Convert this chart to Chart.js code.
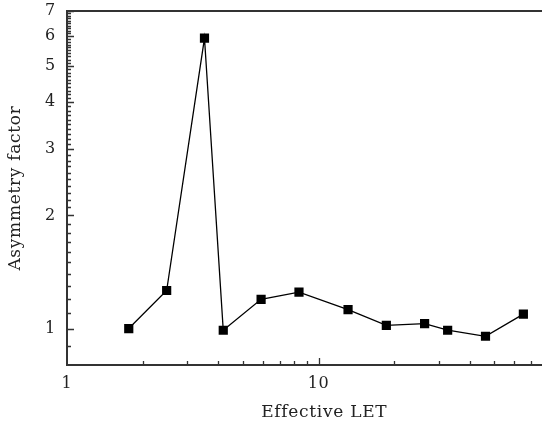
<!DOCTYPE html>
<html>
<head>
<meta charset="utf-8">
<script src="https://cdn.jsdelivr.net/npm/chart.js@4"></script>
<style>
    html, body { margin: 0; padding: 0; background: #fff; overflow: hidden; }
    #wrap { width: 542px; height: 426px; overflow: hidden; }
</style>
</head>
<body>
<div id="wrap">
    <canvas id="asymChart" width="588" height="426"></canvas>
</div>
<script>
// Effective LET vs asymmetry factor
var letValues = [1.76, 2.49, 3.52, 4.18, 5.91, 8.36, 13.1, 18.6, 26.4, 32.6, 46.1, 65.2];
var asymValues = [1.0, 1.263, 5.93, 0.99, 1.196, 1.25, 1.123, 1.02, 1.031, 0.99, 0.954, 1.093];

var xTickLabels = [1, 10];
var yTickLabels = [1, 2, 3, 4, 5, 6, 7];

var axisColor = '#333333';
var serif = "'DejaVu Serif', 'Liberation Serif', serif";

// slightly looser lettering for all the text
var looseText = {
    id: 'looseText',
    beforeDraw: function (chart) {
        chart.ctx.letterSpacing = '0.7px';
    }
};

// minor/major ticks drawn on the inside of the frame, plus the top edge
var innerTicks = {
    id: 'innerTicks',
    afterDraw: function (chart) {
        var ctx = chart.ctx;
        var area = chart.chartArea;
        var xs = chart.scales.x;
        var ys = chart.scales.y;
        ctx.save();
        ctx.strokeStyle = axisColor;
        ctx.lineWidth = 1.3;
        ctx.beginPath();
        // y ticks every 0.1 / 1
        for (var i = 9; i <= 70; i++) {
            var v = i / 10;
            if (v < ys.min || v > ys.max) continue;
            var len = (i % 10 === 0) ? 7 : 4;
            var py = Math.round(ys.getPixelForValue(v)) + 0.5;
            ctx.moveTo(area.left, py);
            ctx.lineTo(area.left + len, py);
        }
        // x ticks on each decade
        [1, 10, 100].forEach(function (dec) {
            for (var k = 1; k <= 9; k++) {
                var xv = dec * k;
                if (xv <= xs.min || xv > xs.max) continue;
                var len2 = (k === 1) ? 7 : 4;
                var px = Math.round(xs.getPixelForValue(xv)) + 0.5;
                ctx.moveTo(px, area.bottom);
                ctx.lineTo(px, area.bottom - len2);
            }
        });
        ctx.stroke();
        ctx.lineWidth = 2;
        ctx.beginPath();
        ctx.moveTo(area.left, area.top);
        ctx.lineTo(area.right, area.top);
        ctx.stroke();
        ctx.restore();
    }
};

var points = letValues.map(function (x, i) { return { x: x, y: asymValues[i] }; });

new Chart(document.getElementById('asymChart').getContext('2d'), {
    type: 'line',
    data: {
        datasets: [{
            data: points,
            borderColor: '#000',
            borderWidth: 1.3,
            tension: 0,
            pointStyle: 'rect',
            pointRadius: 6.5,
            pointBackgroundColor: '#000',
            pointBorderColor: '#000',
            pointBorderWidth: 0
        }]
    },
    options: {
        responsive: false,
        animation: false,
        layout: { padding: { top: 11, left: 0, right: 0, bottom: 0 } },
        plugins: {
            legend: { display: false },
            tooltip: { enabled: false }
        },
        scales: {
            x: {
                type: 'logarithmic',
                min: 1,
                max: 111,
                afterFit: function (s) {
                    s.height = 61;
                    s.paddingLeft = 0;
                    s.paddingRight = 0;
                },
                afterBuildTicks: function (s) {
                    s.ticks = xTickLabels.map(function (v) { return { value: v }; });
                },
                grid: { display: false, drawTicks: false },
                border: { display: true, color: axisColor, width: 2 },
                ticks: {
                    autoSkip: false,
                    maxRotation: 0,
                    padding: 9,
                    color: '#222',
                    font: { family: serif, size: 16 },
                    callback: function (v) { return String(v); }
                },
                title: {
                    display: true,
                    text: 'Effective LET',
                    color: '#222',
                    font: { family: serif, size: 17, lineHeight: 1.2 },
                    padding: { top: 0, bottom: 3 }
                }
            },
            y: {
                type: 'logarithmic',
                min: 0.8,
                max: 7,
                afterFit: function (s) {
                    s.width = 67;
                    s.paddingTop = 0;
                    s.paddingBottom = 0;
                },
                afterBuildTicks: function (s) {
                    s.ticks = yTickLabels.map(function (v) { return { value: v }; });
                },
                grid: { display: false, drawTicks: false },
                border: { display: true, color: axisColor, width: 2 },
                ticks: {
                    autoSkip: false,
                    padding: 11,
                    color: '#222',
                    font: { family: serif, size: 16 },
                    callback: function (v) { return String(v); }
                },
                title: {
                    display: true,
                    text: 'Asymmetry factor',
                    color: '#222',
                    font: { family: serif, size: 17, lineHeight: 1.2 },
                    padding: { top: 5, bottom: 0 }
                }
            }
        }
    },
    plugins: [looseText, innerTicks]
});
</script>
</body>
</html>
